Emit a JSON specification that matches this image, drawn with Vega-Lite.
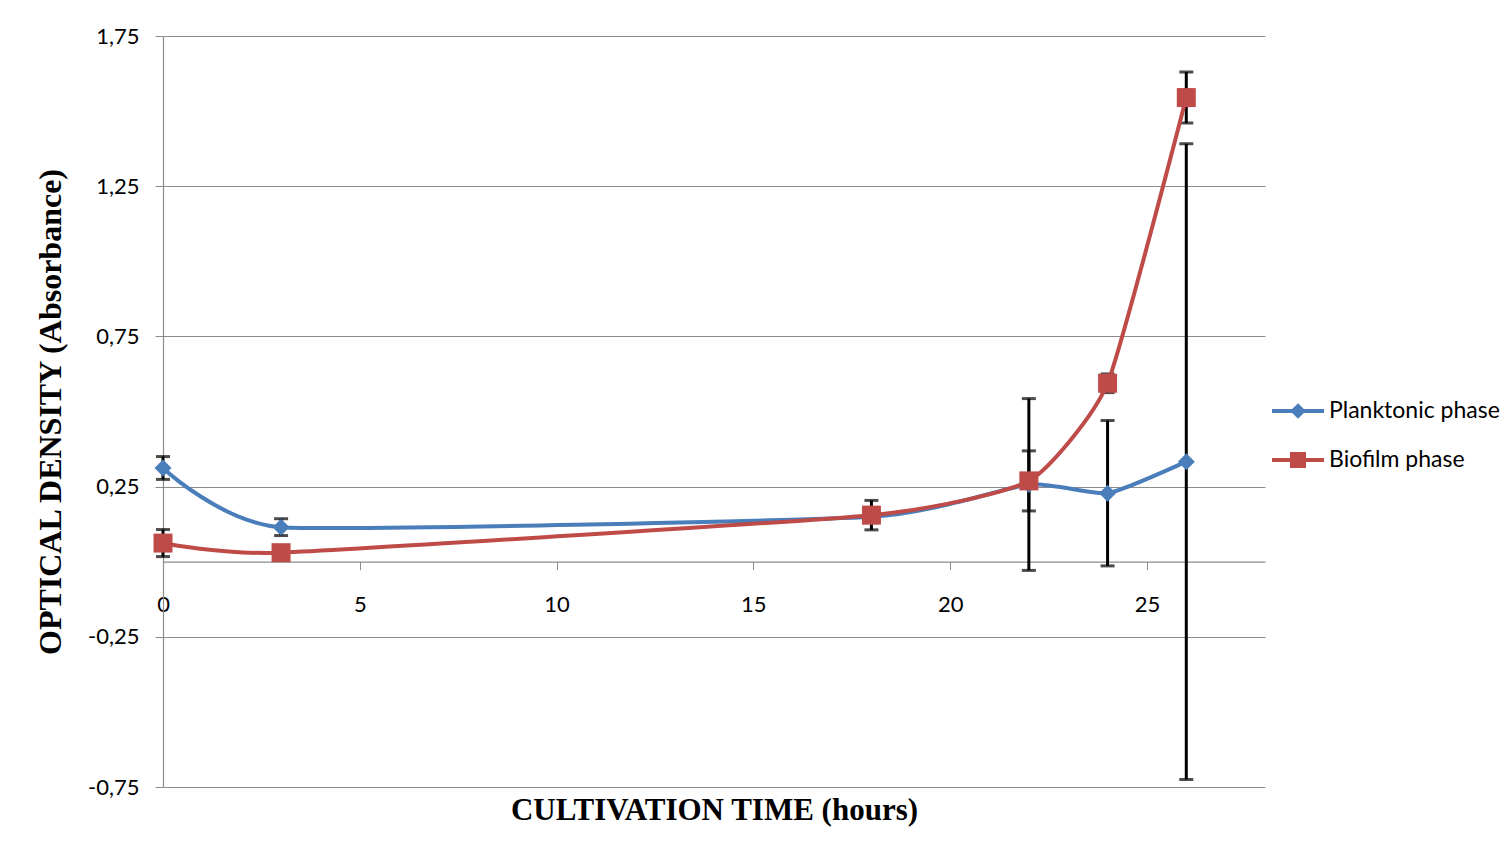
{
  "$schema": "https://vega.github.io/schema/vega-lite/v6.json",
  "width": 1102,
  "height": 751,
  "autosize": {"type": "none"},
  "padding": {"left": 163, "top": 36, "right": 247, "bottom": 69},
  "background": "white",
  "config": {"view": {"stroke": null}, "font": "Lato"},
  "data": {
    "values": [
      {"series": "Planktonic phase", "time": 0, "od": 0.312, "err": 0.038},
      {"series": "Planktonic phase", "time": 3, "od": 0.115, "err": 0.028},
      {"series": "Planktonic phase", "time": 18, "od": 0.15, "err": 0.02},
      {"series": "Planktonic phase", "time": 22, "od": 0.257, "err": 0.286},
      {"series": "Planktonic phase", "time": 24, "od": 0.228, "err": 0.242},
      {"series": "Planktonic phase", "time": 26, "od": 0.333, "err": 1.058},
      {"series": "Biofilm phase", "time": 0, "od": 0.062, "err": 0.045},
      {"series": "Biofilm phase", "time": 3, "od": 0.03, "err": 0.02},
      {"series": "Biofilm phase", "time": 18, "od": 0.155, "err": 0.049},
      {"series": "Biofilm phase", "time": 22, "od": 0.269, "err": 0.1},
      {"series": "Biofilm phase", "time": 24, "od": 0.594, "err": 0.031},
      {"series": "Biofilm phase", "time": 26, "od": 1.545, "err": 0.085}
    ]
  },
  "encoding": {
    "x": {
      "field": "time",
      "type": "quantitative",
      "scale": {"domain": [0, 28], "nice": false, "zero": false},
      "axis": {
        "title": "CULTIVATION TIME (hours)",
        "titleFont": "Liberation Serif",
        "titleFontSize": 31,
        "titleFontWeight": "bold",
        "titleColor": "black",
        "titleY": 258,
        "titleBaseline": "alphabetic",
        "offset": -225.3,
        "values": [0, 5, 10, 15, 20, 25],
        "grid": false,
        "domainColor": "#8c8c8c",
        "domainWidth": 1.2,
        "tickColor": "#8c8c8c",
        "tickSize": 8,
        "labelFont": "Lato",
        "labelFontSize": 22,
        "labelColor": "black",
        "labelPadding": 25,
        "labelFlush": false
      }
    },
    "y": {
      "field": "od",
      "type": "quantitative",
      "scale": {"domain": [-0.75, 1.75], "nice": false, "zero": false},
      "axis": {
        "title": "OPTICAL DENSITY (Absorbance)",
        "titleFont": "Liberation Serif",
        "titleFontSize": 32,
        "titleFontWeight": "bold",
        "titleColor": "black",
        "titleAngle": -90,
        "titleX": -113,
        "titleY": 375.5,
        "titleAlign": "center",
        "titleBaseline": "middle",
        "values": [-0.75, -0.25, 0.25, 0.75, 1.25, 1.75],
        "labelExpr": "replace(toString(datum.value), '.', ',')",
        "labelFont": "Lato",
        "labelFontSize": 22,
        "labelColor": "black",
        "labelPadding": 16,
        "labelFlush": false,
        "grid": true,
        "gridColor": "#8c8c8c",
        "gridWidth": 1.2,
        "domainColor": "#8c8c8c",
        "domainWidth": 1.2,
        "tickColor": "#8c8c8c",
        "tickSize": 8
      }
    }
  },
  "layer": [
    {
      "mark": {
        "type": "errorbar",
        "rule": {"color": "black", "strokeWidth": 3},
        "ticks": {"color": "black", "size": 14, "thickness": 3}
      },
      "encoding": {
        "yError": {"field": "err"}
      }
    },
    {
      "mark": {"type": "line", "interpolate": "cardinal", "tension": 0.5, "strokeWidth": 4},
      "encoding": {
        "color": {
          "field": "series",
          "type": "nominal",
          "scale": {
            "domain": ["Planktonic phase", "Biofilm phase"],
            "range": ["#4A7EBB", "#BE4B48"]
          },
          "legend": {
            "title": null,
            "orient": "none",
            "legendX": 1123,
            "legendY": 363,
            "padding": 0,
            "labelFont": "Lato",
            "labelFontSize": 23,
            "labelColor": "black",
            "labelLimit": 400,
            "symbolSize": 400,
            "labelOffset": 19,
            "rowPadding": 22,
            "encode": {
              "symbols": {
                "update": {
                  "shape": {"signal": "datum.value === 'Planktonic phase' ? 'M-2.6,0H2.6M0,-0.5L0.5,0L0,0.5L-0.5,0Z' : 'M-2.6,0H2.6M-0.6,-0.6H0.6V0.6H-0.6Z'"},
                  "fill": {"signal": "datum.value === 'Planktonic phase' ? '#4A7EBB' : '#BE4B48'"},
                  "stroke": {"signal": "datum.value === 'Planktonic phase' ? '#4A7EBB' : '#BE4B48'"},
                  "strokeWidth": {"value": 4},
                  "opacity": {"value": 1},
                  "fillOpacity": {"value": 1},
                  "strokeOpacity": {"value": 1}
                }
              }
            }
          }
        }
      }
    },
    {
      "transform": [{"filter": "datum.series === 'Planktonic phase'"}],
      "mark": {"type": "point", "filled": true, "opacity": 1, "shape": "diamond", "size": 289},
      "encoding": {
        "color": {"field": "series", "type": "nominal", "legend": null}
      }
    },
    {
      "transform": [{"filter": "datum.series === 'Biofilm phase'"}],
      "mark": {"type": "point", "filled": true, "opacity": 1, "shape": "square", "size": 361},
      "encoding": {
        "color": {"field": "series", "type": "nominal", "legend": null}
      }
    }
  ]
}
